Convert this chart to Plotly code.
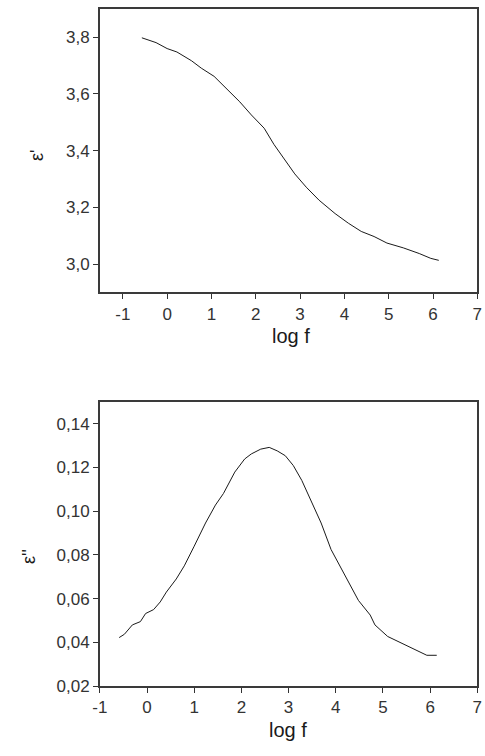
import plotly.graph_objects as go

# Top panel: real permittivity eps' vs log f
logf_top = [-0.57, -0.25, 0.0, 0.22, 0.55, 0.77, 1.06, 1.39, 1.64, 1.90, 2.19, 2.41, 2.63,
            2.88, 3.14, 3.43, 3.79, 4.09, 4.38, 4.67, 4.96, 5.33, 5.69, 5.95, 6.13]
eps_real = [3.798, 3.781, 3.760, 3.748, 3.717, 3.691, 3.662, 3.612, 3.572, 3.526, 3.479, 3.422,
            3.375, 3.318, 3.271, 3.225, 3.178, 3.144, 3.115, 3.097, 3.074, 3.057, 3.037, 3.020, 3.013]

# Bottom panel: loss eps'' vs log f
logf_bot = [-0.59, -0.48, -0.31, -0.14, -0.03, 0.14, 0.28, 0.41, 0.62, 0.79, 1.0, 1.24, 1.45,
            1.62, 1.86, 2.07, 2.21, 2.41, 2.59, 2.76, 2.93, 3.10, 3.28, 3.45, 3.69, 3.90,
            4.21, 4.48, 4.73, 4.83, 5.10, 5.38, 5.69, 5.93, 6.14]
eps_imag = [0.0422, 0.0437, 0.0480, 0.0495, 0.0532, 0.0550, 0.0585, 0.0630, 0.0690, 0.0750,
            0.0840, 0.0946, 0.1028, 0.1081, 0.1179, 0.1239, 0.1262, 0.1284, 0.1292, 0.1276,
            0.1254, 0.1209, 0.1141, 0.1058, 0.0946, 0.0825, 0.0698, 0.0592, 0.0525, 0.0480,
            0.0427, 0.0397, 0.0367, 0.0341, 0.0341]

x_ticks = [-1, 0, 1, 2, 3, 4, 5, 6, 7]
x_ticktext = ["-1", "0", "1", "2", "3", "4", "5", "6", "7"]
top_yticks = [3.0, 3.2, 3.4, 3.6, 3.8]
bot_yticks = [0.02, 0.04, 0.06, 0.08, 0.10, 0.12, 0.14]

W, H = 485, 756
FONT = "Liberation Sans, Arial"
fig = go.Figure()
fig.add_trace(go.Scatter(x=logf_top, y=eps_real, mode="lines",
                         line=dict(color="#1a1a1a", width=1), xaxis="x", yaxis="y",
                         showlegend=False))
fig.add_trace(go.Scatter(x=logf_bot, y=eps_imag, mode="lines",
                         line=dict(color="#1a1a1a", width=1), xaxis="x2", yaxis="y2",
                         showlegend=False))

tickfont = dict(family=FONT, size=17, color="#333333")
axcommon = dict(showline=True, linecolor="#3a3a3a", linewidth=1.5, mirror=True,
                showgrid=False, zeroline=False, ticks="outside", ticklen=5,
                tickwidth=1, tickcolor="#333333", tickfont=tickfont,
                ticklabeloverflow="allow")

xd = [94.3 / W, 482.3 / W]
fig.update_layout(
    width=W, height=H, margin=dict(l=0, r=0, t=0, b=0),
    plot_bgcolor="white", paper_bgcolor="white",
    separators=", ",
    xaxis=dict(domain=xd, range=[-1.52, 7.001], tickvals=x_ticks, ticktext=x_ticktext,
               anchor="y", **axcommon),
    yaxis=dict(domain=[1 - 296.3 / H, 1 - 9 / H], range=[2.9, 3.9], tickvals=top_yticks,
               tickformat=".1f", anchor="x", **axcommon),
    xaxis2=dict(domain=xd, range=[-1.001, 7.001], tickvals=x_ticks, ticktext=x_ticktext,
                anchor="y2", **axcommon),
    yaxis2=dict(domain=[1 - 695.3 / H, 1 - 407.3 / H], range=[0.02, 0.15], tickvals=bot_yticks,
                tickformat=".2f", anchor="x2", **axcommon),
)

titlefont = dict(family=FONT, size=20, color="#1a1a1a")
ann = dict(xref="paper", yref="paper", showarrow=False, xanchor="center", yanchor="middle")
fig.add_annotation(text="log f", x=291 / W, y=1 - 340 / H, font=titlefont, **ann)
fig.add_annotation(text="log f", x=288 / W, y=1 - 740 / H, font=titlefont, **ann)
fig.add_annotation(text="ε'", x=30 / W, y=1 - 158 / H, textangle=-90,
                   font=dict(family=FONT, size=18, color="#1a1a1a"), **ann)
fig.add_annotation(text="ε''", x=21 / W, y=1 - 564 / H, textangle=-90,
                   font=dict(family=FONT, size=18, color="#1a1a1a"), **ann)

fig.write_html("out.html")
